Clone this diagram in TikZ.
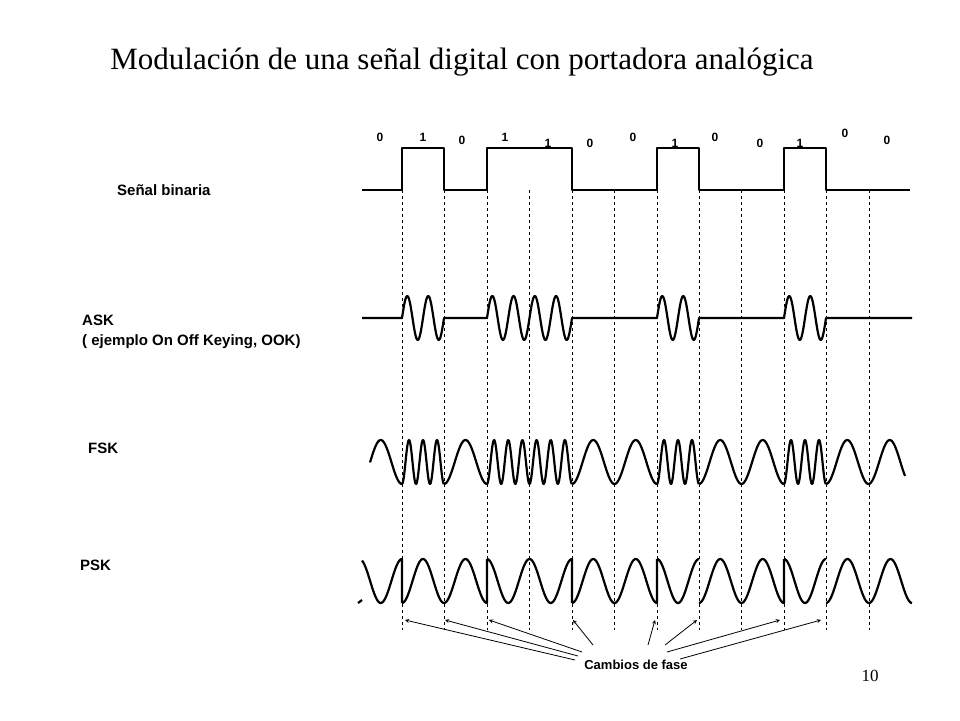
\documentclass[tikz,border=0pt]{standalone}
\usepackage{fontspec}
\setmainfont{Liberation Serif}
\setsansfont{Liberation Sans}
\begin{document}
\begin{tikzpicture}[x=1pt,y=-1pt,
  lab/.style={font=\sffamily\bfseries\fontsize{15}{18}\selectfont,inner sep=0},
  bit/.style={font=\sffamily\bfseries\fontsize{12}{14}\selectfont,inner sep=0},
  wave/.style={line width=2.2pt,line join=round},
  guide/.style={dashed,line width=0.5pt},
  arr/.style={-stealth,line width=0.8pt}]
\useasboundingbox (0,0) rectangle (960,720);
\fill[white] (0,0) rectangle (960,720);
\node[inner sep=0,font=\fontsize{31}{36}\selectfont] (title) at (462,62) {Modulación de una señal digital con portadora analógica};
\node[lab,anchor=west] (sb) at (117,190) {Señal binaria};
\node[lab,anchor=west] (ask1) at (82,320) {ASK};
\node[lab,anchor=west] (ask2) at (82,342) {( ejemplo On Off Keying, OOK)};
\node[lab,anchor=west] (fsk) at (88,448) {FSK};
\node[lab,anchor=west] (psk) at (80,565) {PSK};
\node[inner sep=0,font=\fontsize{17}{20}\selectfont] (pg) at (870,676) {10};
% bits
\foreach \x/\y/\b [count=\i] in {380/137/0,423/137/1,462/140/0,505/137/1,548/143/1,590/143/0,633/137/0,675/143/1,715/137/0,760/143/0,800/143/1,845/133/0,887/140/0}
  \node[bit] (b\i) at (\x,\y) {\b};
% guides
\foreach \x [count=\i] in {402,444,487,529,572,614,657,699,741,784,826,869}
  \draw[guide] (\x,190) -- (\x,630);
% binary
\draw[wave] (362,190) -- (402,190) -- (402,148) -- (444,148) -- (444,190) -- (487,190) -- (487,148) -- (572,148) -- (572,190) -- (657,190) -- (657,148) -- (699,148) -- (699,190) -- (784,190) -- (784,148) -- (826,148) -- (826,190) -- (910,190);
% ASK
\draw[wave] (362,318) -- (402,318)
  plot[domain=402:444,samples=60] (\x,{318-22*sin((\x-402)/42*720)}) -- (487,318)
  plot[domain=487:572,samples=120] (\x,{318-22*sin((\x-487)/42.5*720)}) -- (657,318)
  plot[domain=657:699,samples=60] (\x,{318-22*sin((\x-657)/42*720)}) -- (784,318)
  plot[domain=784:826,samples=60] (\x,{318-22*sin((\x-784)/42*720)}) -- (912,318);
% FSK
\draw[wave] plot[domain=370:402,samples=40] (\x,{462+22*cos((\x-402)/42.5*360)})
  plot[domain=402:444,samples=80] (\x,{462+22*cos((\x-402)/42*1080)})
  plot[domain=444:487,samples=40] (\x,{462+22*cos((\x-444)/43*360)})
  plot[domain=487:572,samples=160] (\x,{462+22*cos((\x-487)/42.5*1080)})
  plot[domain=572:657,samples=80] (\x,{462+22*cos((\x-572)/42.5*360)})
  plot[domain=657:699,samples=80] (\x,{462+22*cos((\x-657)/42*1080)})
  plot[domain=699:784,samples=80] (\x,{462+22*cos((\x-699)/42.5*360)})
  plot[domain=784:826,samples=80] (\x,{462+22*cos((\x-784)/42*1080)})
  plot[domain=826:905,samples=80] (\x,{462+22*cos((\x-826)/42.5*360)});
% PSK
\draw[wave] (358,603) -- (362,600)
  plot[domain=362:402,samples=40] (\x,{581-22*cos((\x-402)/42.5*360)})
  -- (402,603)
  plot[domain=402:444,samples=40] (\x,{581+22*cos((\x-402)/42*360)})
  plot[domain=444:487,samples=40] (\x,{581-22*cos(180+(\x-444)/43*360)})
  -- (487,559)
  plot[domain=487:572,samples=80] (\x,{581-22*cos((\x-487)/42.5*360)})
  -- (572,603)
  plot[domain=572:657,samples=80] (\x,{581+22*cos((\x-572)/42.5*360)})
  -- (657,559)
  plot[domain=657:699,samples=40] (\x,{581-22*cos((\x-657)/42*360)})
  plot[domain=699:784,samples=80] (\x,{581+22*cos((\x-699)/42.5*360)})
  -- (784,559)
  plot[domain=784:826,samples=40] (\x,{581-22*cos((\x-784)/42*360)})
  plot[domain=826:912,samples=80] (\x,{581+22*cos((\x-826)/43*360)});
% caption and arrows
\node[lab,font=\sffamily\bfseries\fontsize{13}{15}\selectfont] (cf) at (636,665) {Cambios de fase};
\coordinate (p1) at (405,620); \coordinate (p2) at (445,620); \coordinate (p3) at (489,620);
\coordinate (p4) at (573,620); \coordinate (p5) at (655,620); \coordinate (p6) at (697,620);
\coordinate (p7) at (780,620); \coordinate (p8) at (821,620);
\draw[arr] (575,660) -- (p1);
\draw[arr] (578,656) -- (p2);
\draw[arr] (582,652) -- (p3);
\draw[arr] (593,645) -- (p4);
\draw[arr] (648,645) -- (p5);
\draw[arr] (665,645) -- (p6);
\draw[arr] (667,652) -- (p7);
\draw[arr] (680,659) -- (p8);
\end{tikzpicture}
\end{document}
